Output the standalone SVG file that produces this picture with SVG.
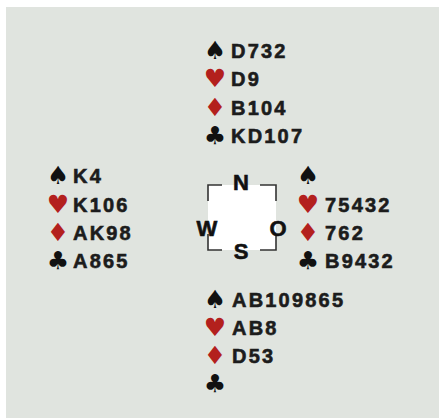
<svg xmlns="http://www.w3.org/2000/svg" width="439" height="418" viewBox="0 0 439 418">
<style>
.v{font-family:"Liberation Sans",Arial,sans-serif;font-weight:bold;font-size:20px;letter-spacing:2.2px;fill:#1c1c1c;stroke:#1c1c1c;stroke-width:0.6}
.s{font-family:"DejaVu Sans",sans-serif;font-size:25px;text-anchor:middle}
.b{fill:#111}
.r{fill:#b3201d}
.c{font-family:"Liberation Sans",Arial,sans-serif;font-weight:bold;font-size:22px;fill:#111;stroke:#111;stroke-width:0.6;text-anchor:middle}
.br{fill:none;stroke:#333;stroke-width:1.6}
</style>
<rect x="0" y="0" width="439" height="418" fill="#ffffff"/>
<rect x="6" y="7" width="433" height="411" fill="#e0e4df"/>
<g id="north">
<text class="s b" x="215" y="59">♠</text><text class="v" x="231" y="58">D732</text>
<text class="s r" x="215" y="87">♥</text><text class="v" x="231" y="86">D9</text>
<text class="s r" x="215" y="116">♦</text><text class="v" x="231" y="115">B104</text>
<text class="s b" x="215" y="144">♣</text><text class="v" x="231" y="143">KD107</text>
</g>
<g id="west">
<text class="s b" x="58" y="184">♠</text><text class="v" x="73" y="183">K4</text>
<text class="s r" x="58" y="213">♥</text><text class="v" x="73" y="212">K106</text>
<text class="s r" x="58" y="241">♦</text><text class="v" x="73" y="240">AK98</text>
<text class="s b" x="58" y="269">♣</text><text class="v" x="73" y="268">A865</text>
</g>
<g id="east">
<text class="s b" x="308" y="184">♠</text>
<text class="s r" x="308" y="213">♥</text><text class="v" x="325" y="212">75432</text>
<text class="s r" x="308" y="241">♦</text><text class="v" x="325" y="240">762</text>
<text class="s b" x="308" y="269">♣</text><text class="v" x="325" y="268">B9432</text>
</g>
<g id="south">
<text class="s b" x="215" y="308">♠</text><text class="v" x="232" y="307">AB109865</text>
<text class="s r" x="215" y="336">♥</text><text class="v" x="232" y="335">AB8</text>
<text class="s r" x="215" y="364">♦</text><text class="v" x="232" y="363">D53</text>
<text class="s b" x="215" y="392">♣</text>
</g>
<g id="compass">
<rect x="208" y="185" width="68" height="65" fill="#ffffff"/>
<path class="br" d="M222,185 H208 V201 M208,234 V250 H222 M260,185 H276 V201 M276,234 V250 H260"/>
<text class="c" x="241" y="190">N</text>
<text class="c" x="207" y="236">W</text>
<text class="c" x="278" y="236">O</text>
<text class="c" x="241" y="259">S</text>
</g>
</svg>
